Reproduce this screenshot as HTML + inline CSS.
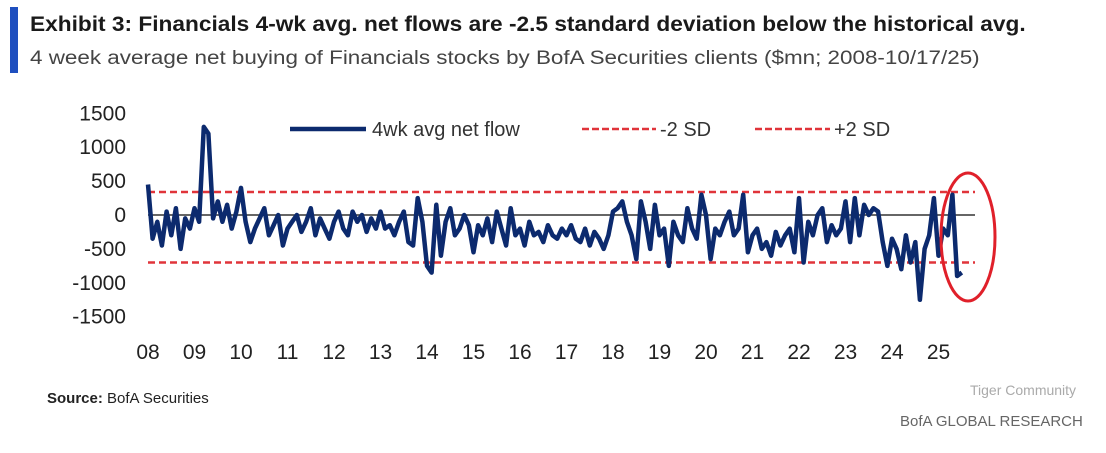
<!DOCTYPE html>
<html><head><meta charset="utf-8">
<style>
body{margin:0;width:1106px;height:453px;background:#fff;overflow:hidden;font-family:"Liberation Sans",sans-serif;position:relative}
.bar{position:absolute;left:10px;top:7px;width:8px;height:66px;background:#1f4fbf}
.title{position:absolute;left:30px;top:13px;font-size:21px;font-weight:bold;color:#1a1a1a;white-space:nowrap;transform-origin:0 0;transform:scaleX(1.08)}
.sub{position:absolute;left:30px;top:48px;font-size:19px;color:#444;white-space:nowrap;transform-origin:0 0;transform:scaleX(1.18)}
.src{position:absolute;left:47px;top:390px;font-size:15px;color:#222}
.wm{position:absolute;color:#aaa;font-size:14px}
</style></head><body>
<div class="bar"></div>
<div class="title">Exhibit 3: Financials 4-wk avg. net flows are -2.5 standard deviation below the historical avg.</div>
<div class="sub">4 week average net buying of Financials stocks by BofA Securities clients ($mn; 2008-10/17/25)</div>
<div class="src"><b>Source:</b> BofA Securities</div>
<div class="wm" style="left:970px;top:382px">Tiger Community</div>
<div class="wm" style="left:900px;top:413px;font-size:15px;color:#666">BofA GLOBAL RESEARCH</div>
<svg id="chart" width="1106" height="453" style="position:absolute;left:0;top:0"></svg>
<script>
const yTicks=[1500,1000,500,0,-500,-1000,-1500];
const xTickLabels=["08","09","10","11","12","13","14","15","16","17","18","19","20","21","22","23","24","25"];
const startYear=2008;
const minus2SD=-700;
const plus2SD=340;
const flows=[
[450,-350,-100,-450,50,-300,100,-500,-50,-200],
[100,-100,1300,1200,-50,200,-100,150,-200,50],
[400,-100,-400,-200,-50,100,-300,-150,0,-450],
[-200,-100,0,-250,-100,100,-300,-50,-200,-350],
[-100,50,-200,-300,50,-100,0,-250,-50,-200],
[50,-200,-150,-300,-100,50,-400,-450,250,-100],
[-750,-850,150,-600,-100,100,-300,-200,0,-150],
[-550,-150,-300,-50,-400,50,-200,-450,100,-300],
[-200,-450,-100,-300,-250,-400,-150,-300,-350,-200],
[-300,-150,-350,-400,-200,-450,-250,-350,-500,-300],
[50,100,200,-100,-300,-650,200,-100,-500,150],
[-300,-200,-750,-100,-300,-400,100,-200,-350,300],
[0,-650,-200,-300,-100,50,-300,-200,300,-550],
[-300,-200,-500,-400,-600,-250,-450,-300,-200,-550],
[250,-700,-100,-300,0,100,-400,-150,-300,-200],
[200,-400,250,-300,150,0,100,50,-400,-750],
[-350,-500,-800,-300,-700,-400,-1250,-500,-300,250],
[-600,-200,-300,300,-900,-850]
];
const NS="http://www.w3.org/2000/svg";
const svg=document.getElementById('chart');
const X=t=>148+(t-startYear)*46.5;
const Y=v=>215-v*0.0678;
function mk(tag,attrs){const e=document.createElementNS(NS,tag);for(const k in attrs)e.setAttribute(k,attrs[k]);svg.appendChild(e);return e;}
yTicks.forEach(v=>{const t=mk('text',{x:126,y:Y(v)+7,'text-anchor':'end','font-size':21,fill:'#222','font-family':'Liberation Sans'});t.textContent=v;

});
xTickLabels.forEach((l,i)=>{const t=mk('text',{x:X(startYear+i),y:359,'text-anchor':'middle','font-size':21,fill:'#222','font-family':'Liberation Sans'});t.textContent=l;

});
const zl=mk('line',{x1:148,x2:975,y1:Y(0),y2:Y(0),stroke:'#333','stroke-width':1.5});


[[minus2SD,'minus-2sd-line'],[plus2SD,'plus-2sd-line']].forEach(([v,n])=>{const l=mk('line',{x1:148,x2:975,y1:Y(v),y2:Y(v),stroke:'#e0343a','stroke-width':2.5,'stroke-dasharray':'7 4'});

});
let pts=[];
flows.forEach((arr,yi)=>arr.forEach((v,i)=>pts.push(X(startYear+yi+i/10).toFixed(1)+','+Y(v).toFixed(1))));
const pl=mk('polyline',{points:pts.join(' '),fill:'none',stroke:'#0c2a6e','stroke-width':4.5,'stroke-linejoin':'round'});


const lg1=mk('line',{x1:290,x2:366,y1:129,y2:129,stroke:'#0c2a6e','stroke-width':4.5});


const lt1=mk('text',{x:372,y:136,'font-size':20,fill:'#333'});lt1.textContent='4wk avg net flow';


const lg2=mk('line',{x1:582,x2:656,y1:129,y2:129,stroke:'#e0343a','stroke-width':2.5,'stroke-dasharray':'7 3'});


const lt2=mk('text',{x:660,y:136,'font-size':20,fill:'#333'});lt2.textContent='-2 SD';


const lg3=mk('line',{x1:755,x2:830,y1:129,y2:129,stroke:'#e0343a','stroke-width':2.5,'stroke-dasharray':'7 3'});


const lt3=mk('text',{x:834,y:136,'font-size':20,fill:'#333'});lt3.textContent='+2 SD';


const el=mk('ellipse',{cx:968,cy:237,rx:27,ry:64,fill:'none',stroke:'#e0202a','stroke-width':3});


</script>
</body></html>
